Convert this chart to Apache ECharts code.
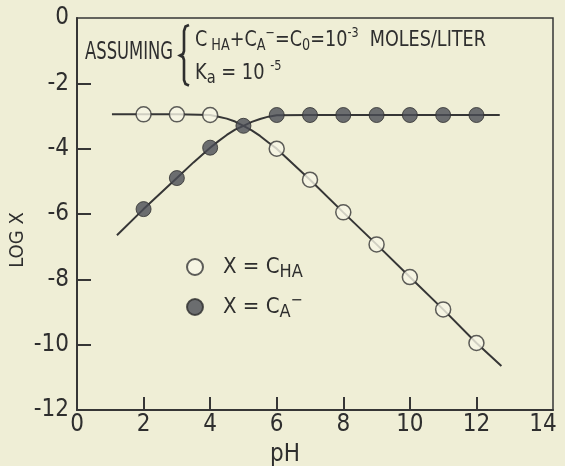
<!DOCTYPE html>
<html>
<head>
<meta charset="utf-8">
<script src="https://cdn.jsdelivr.net/npm/echarts@6/dist/echarts.min.js"></script>
<style>
html,body{margin:0;padding:0;background:#efeed6;}
#chart{width:565px;height:466px;}
</style>
</head>
<body>
<div id="chart"></div>
<script>
// ---- data ----
const xTickValues = [0, 2, 4, 6, 8, 10, 12, 14];
const xTickLabels = ['0', '2', '4', '6', '8', '10', '12', '14'];
const xTickMarks = [2, 4, 6, 8, 10, 12];
const yTickValues = [0, -2, -4, -6, -8, -10, -12];
const yTickLabels = ['0', '-2', '-4', '-6', '-8', '-10', '-12'];
const yTickMarks = [-2, -4, -6, -8, -10];

// open circles: X = C_HA
const chaPH = [2, 3, 4, 6, 7, 8, 9, 10, 11, 12];
const chaLog = [-2.95, -2.95, -2.97, -4.0, -4.95, -5.95, -6.93, -7.93, -8.92, -9.95];
// filled circles: X = C_A-
const caPH = [2, 3, 4, 5, 6, 7, 8, 9, 10, 11, 12];
const caLog = [-5.85, -4.9, -3.97, -3.3, -2.97, -2.97, -2.97, -2.97, -2.97, -2.97, -2.97];

// drawn curves (extend past the markers)
const chaCurvePH = [1.05, 2, 3, 4, 4.25, 4.5, 4.75, 5, 5.25, 5.5, 5.75, 6, 6.5, 7, 8, 9, 10, 11, 12, 12.75];
const chaCurveLog = [-2.95, -2.95, -2.95, -2.97, -3.02, -3.08, -3.17, -3.3, -3.44, -3.61, -3.81, -4.0, -4.48, -4.95, -5.95, -6.93, -7.93, -8.92, -9.95, -10.65];
const caCurvePH = [1.2, 2, 3, 3.5, 4, 4.25, 4.5, 4.75, 5, 5.25, 5.5, 5.75, 6, 7, 8, 9, 10, 11, 12, 12.7];
const caCurveLog = [-6.65, -5.85, -4.9, -4.42, -3.97, -3.77, -3.58, -3.42, -3.3, -3.18, -3.09, -3.02, -2.98, -2.97, -2.97, -2.97, -2.97, -2.97, -2.97, -2.97];

const zip = (a, b) => a.map((v, i) => [v, b[i]]);

const INK = '#363636';
const TXT = '#2e2e2e';
const BG = '#efeed6';
const FILL = '#4a4c55';
const FONT = '"DejaVu Sans Condensed", "DejaVu Sans", sans-serif';

const chart = echarts.init(document.getElementById('chart'), null, {renderer: 'canvas'});

chart.setOption({
  backgroundColor: BG,
  animation: false,
  grid: {left: 77, right: 12, top: 18, bottom: 56, show: true, borderColor: INK, borderWidth: 1.5},
  xAxis: {
    type: 'value', min: 0, max: 14.3, interval: 2,
    axisLine: {show: true, onZero: false, lineStyle: {color: INK, width: 2}},
    axisTick: {show: true, inside: true, length: 13, customValues: xTickMarks, lineStyle: {color: INK, width: 2}},
    splitLine: {show: false},
    axisLabel: {
      customValues: xTickValues, margin: 3, color: TXT, fontFamily: FONT, fontSize: 24,
      formatter: v => { const i = xTickValues.indexOf(v); return i >= 0 ? xTickLabels[i] : ''; }
    }
  },
  yAxis: {
    type: 'value', min: -12, max: 0, interval: 2,
    axisLine: {show: true, onZero: false, lineStyle: {color: INK, width: 2}},
    axisTick: {show: true, inside: true, length: 14, customValues: yTickMarks, lineStyle: {color: INK, width: 2}},
    splitLine: {show: false},
    axisLabel: {
      customValues: yTickValues, margin: 8, color: TXT, fontFamily: FONT, fontSize: 24,
      formatter: v => { const i = yTickValues.indexOf(v); return i >= 0 ? yTickLabels[i] : ''; }
    }
  },
  legend: {
    data: ['C_HA', 'C_A'],
    orient: 'vertical', left: 186, top: 256, itemGap: 12, padding: 0,
    itemWidth: 16, itemHeight: 16,
    icon: 'circle',
    textStyle: {
      fontFamily: FONT, fontSize: 22, color: TXT,
      rich: {
        g: {width: 15, lineHeight: 28},
        m: {fontFamily: FONT, fontSize: 22, color: TXT, lineHeight: 28},
        s: {fontFamily: FONT, fontSize: 18, color: TXT, verticalAlign: 'bottom', lineHeight: 28},
        p: {fontFamily: FONT, fontSize: 16, color: TXT, verticalAlign: 'top', lineHeight: 28}
      }
    },
    formatter: n => n === 'C_HA' ? '{g|}{m|X = C}{s|HA}' : '{g|}{m|X = C}{s|A}{p|−}'
  },
  graphic: [
    {type: 'text', x: 85, y: 53, scaleX: 0.76, style: {text: 'ASSUMING', font: '24px ' + FONT, fill: TXT, verticalAlign: 'middle'}},
    {type: 'polyline', shape: {points: [[189, 25], [185.5, 26.5], [184, 31], [184, 51], [183, 54], [180, 55.5], [183, 57], [184, 60], [184, 80], [185.5, 84], [189, 85.5]]},
     style: {stroke: TXT, lineWidth: 2.6, fill: null}},
    {type: 'text', x: 195, y: 40, scaleX: 0.89, style: {
      text: '{n|C}{s| HA}{n|+C}{s|A}{p|−}{n|=C}{s|0}{n|=10}{p|-3}{n|  MOLES/LITER}',
      verticalAlign: 'middle',
      rich: {
        n: {font: '22px ' + FONT, fill: TXT, lineHeight: 28},
        s: {font: '16px ' + FONT, fill: TXT, lineHeight: 28, verticalAlign: 'bottom'},
        p: {font: '14px ' + FONT, fill: TXT, lineHeight: 28, verticalAlign: 'top'}
      }
    }},
    {type: 'text', x: 195, y: 73, scaleX: 0.9, style: {
      text: '{n|K}{s|a}{n| = 10 }{p|-5}',
      verticalAlign: 'middle',
      rich: {
        n: {font: '22px ' + FONT, fill: TXT, lineHeight: 28},
        s: {font: '18px ' + FONT, fill: TXT, lineHeight: 28, verticalAlign: 'bottom'},
        p: {font: '14px ' + FONT, fill: TXT, lineHeight: 28, verticalAlign: 'top'}
      }
    }},
    {type: 'text', x: 8, y: 240, rotation: Math.PI / 2, style: {text: 'LOG X', font: '20px ' + FONT, fill: TXT, align: 'center', verticalAlign: 'top'}},
    {type: 'text', x: 285, y: 455, style: {text: 'pH', font: '24px ' + FONT, fill: TXT, align: 'center', verticalAlign: 'middle'}}
  ],
  series: [
    {type: 'line', name: 'curveHA', data: zip(chaCurvePH, chaCurveLog), showSymbol: false, symbol: 'none',
     lineStyle: {color: INK, width: 2}, silent: true, z: 2},
    {type: 'line', name: 'curveA', data: zip(caCurvePH, caCurveLog), showSymbol: false, symbol: 'none',
     lineStyle: {color: INK, width: 2}, silent: true, z: 2},
    {type: 'scatter', name: 'C_HA', data: zip(chaPH, chaLog), symbol: 'circle', symbolSize: 15,
     itemStyle: {color: '#f7f6e6', borderColor: INK, borderWidth: 1.5}, z: 3},
    {type: 'scatter', name: 'C_A', data: zip(caPH, caLog), symbol: 'circle', symbolSize: 15,
     itemStyle: {color: FILL, borderColor: TXT, borderWidth: 1}, z: 4}
  ]
});
</script>
</body>
</html>
